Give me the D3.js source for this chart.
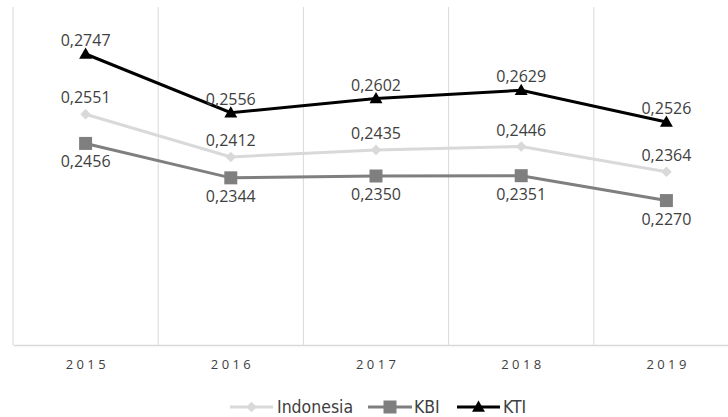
<!DOCTYPE html>
<html>
<head>
<meta charset="utf-8">
<script src="https://cdn.jsdelivr.net/npm/d3@7"></script>
<style>
  html, body { margin: 0; padding: 0; background: #fff; }
  svg { display: block; }
</style>
</head>
<body>
<svg id="chart" width="728" height="417"></svg>
<script>
// Years on the category axis
const years = ["2015", "2016", "2017", "2018", "2019"];

// Index values per region
const indonesia = [0.2551, 0.2412, 0.2435, 0.2446, 0.2364];
const kbi       = [0.2456, 0.2344, 0.2350, 0.2351, 0.2270];
const kti       = [0.2747, 0.2556, 0.2602, 0.2629, 0.2526];

const seriesNames  = ["Indonesia", "KBI", "KTI"];
const seriesColors = ["#d9d9d9", "#7f7f7f", "#000000"];

const series = [
  { name: seriesNames[0], values: indonesia, color: seriesColors[0], marker: "diamond",  labelDy: -11 },
  { name: seriesNames[1], values: kbi,       color: seriesColors[1], marker: "square",   labelDy: 24 },
  { name: seriesNames[2], values: kti,       color: seriesColors[2], marker: "triangle", labelDy: -8 }
];

const svg = d3.select("#chart");
const plot = { left: 13, right: 739, top: 7, bottom: 345 };

const x = d3.scaleBand().domain(years).range([plot.left, plot.right]).paddingInner(0).paddingOuter(0);
const y = d3.scaleLinear().domain([0.18, 0.29]).range([plot.bottom, plot.top]);
const cx = d => x(d) + x.bandwidth() / 2;

// Vertical gridlines at category boundaries
const boundaries = years.map(d => x(d)).concat([x(years[years.length - 1]) + x.bandwidth()]);
svg.append("g").selectAll("line").data(boundaries).join("line")
  .attr("x1", d => d).attr("x2", d => d)
  .attr("y1", plot.top).attr("y2", plot.bottom)
  .attr("stroke", "#d9d9d9").attr("stroke-width", 1);

// Category axis
const xAxis = d3.axisBottom(x).tickSize(0).tickPadding(15);
const gx = svg.append("g").attr("transform", `translate(0,${plot.bottom})`).call(xAxis);
gx.select(".domain").attr("stroke", "#d9d9d9").attr("stroke-width", 1.5);
gx.selectAll("text")
  .attr("font-family", "'Open Sans', sans-serif")
  .attr("font-size", 13)
  .attr("letter-spacing", "3.4px")
  .attr("dx", "1.7px")
  .attr("fill", "#404040");

// Marker shapes
const symbolFor = {
  diamond: d3.symbol().type(d3.symbolDiamond2).size(72),
  square: d3.symbol().type(d3.symbolSquare).size(169),
  triangle: d3.symbol().type(d3.symbolTriangle2).size(120)
};

const line = d3.line().x((v, i) => cx(years[i])).y(v => y(v));

series.forEach(s => {
  const g = svg.append("g");
  g.append("path")
    .attr("d", line(s.values))
    .attr("fill", "none")
    .attr("stroke", s.color)
    .attr("stroke-width", 3);
  g.selectAll("path.m").data(s.values).join("path")
    .attr("class", "m")
    .attr("transform", (v, i) => `translate(${cx(years[i])},${y(v) + (s.marker === "triangle" ? 1 : 0)})`)
    .attr("d", symbolFor[s.marker]())
    .attr("fill", s.color);
});

// Data labels
const fmt = v => d3.format(".4f")(v).replace(".", ",");
series.forEach(s => {
  svg.append("g").selectAll("text").data(s.values).join("text")
    .attr("x", (v, i) => cx(years[i]))
    .attr("y", v => y(v) + s.labelDy)
    .attr("text-anchor", "middle")
    .attr("font-family", "'Open Sans', sans-serif")
    .attr("font-size", 16)
    .attr("fill", "#404040")
    .text(fmt);
});

// Legend
const legendItems = [
  { s: series[0], x0: 230, x1: 273, tx: 277 },
  { s: series[1], x0: 368, x1: 412, tx: 414 },
  { s: series[2], x0: 457, x1: 500, tx: 503 }
];
const legendY = 407;
const lg = svg.append("g");
legendItems.forEach(it => {
  lg.append("line")
    .attr("x1", it.x0).attr("x2", it.x1)
    .attr("y1", legendY).attr("y2", legendY)
    .attr("stroke", it.s.color).attr("stroke-width", 3);
  lg.append("path")
    .attr("transform", `translate(${(it.x0 + it.x1) / 2},${legendY + (it.s.marker === "triangle" ? 1 : 0)})`)
    .attr("d", symbolFor[it.s.marker]())
    .attr("fill", it.s.color);
  lg.append("text")
    .attr("x", it.tx).attr("y", legendY)
    .attr("dy", "0.35em")
    .attr("font-family", "'Liberation Sans Narrow', 'DejaVu Sans Condensed', sans-serif")
    .attr("font-size", 17.5)
    .attr("fill", "#404040")
    .text(it.s.name);
});
</script>
</body>
</html>
